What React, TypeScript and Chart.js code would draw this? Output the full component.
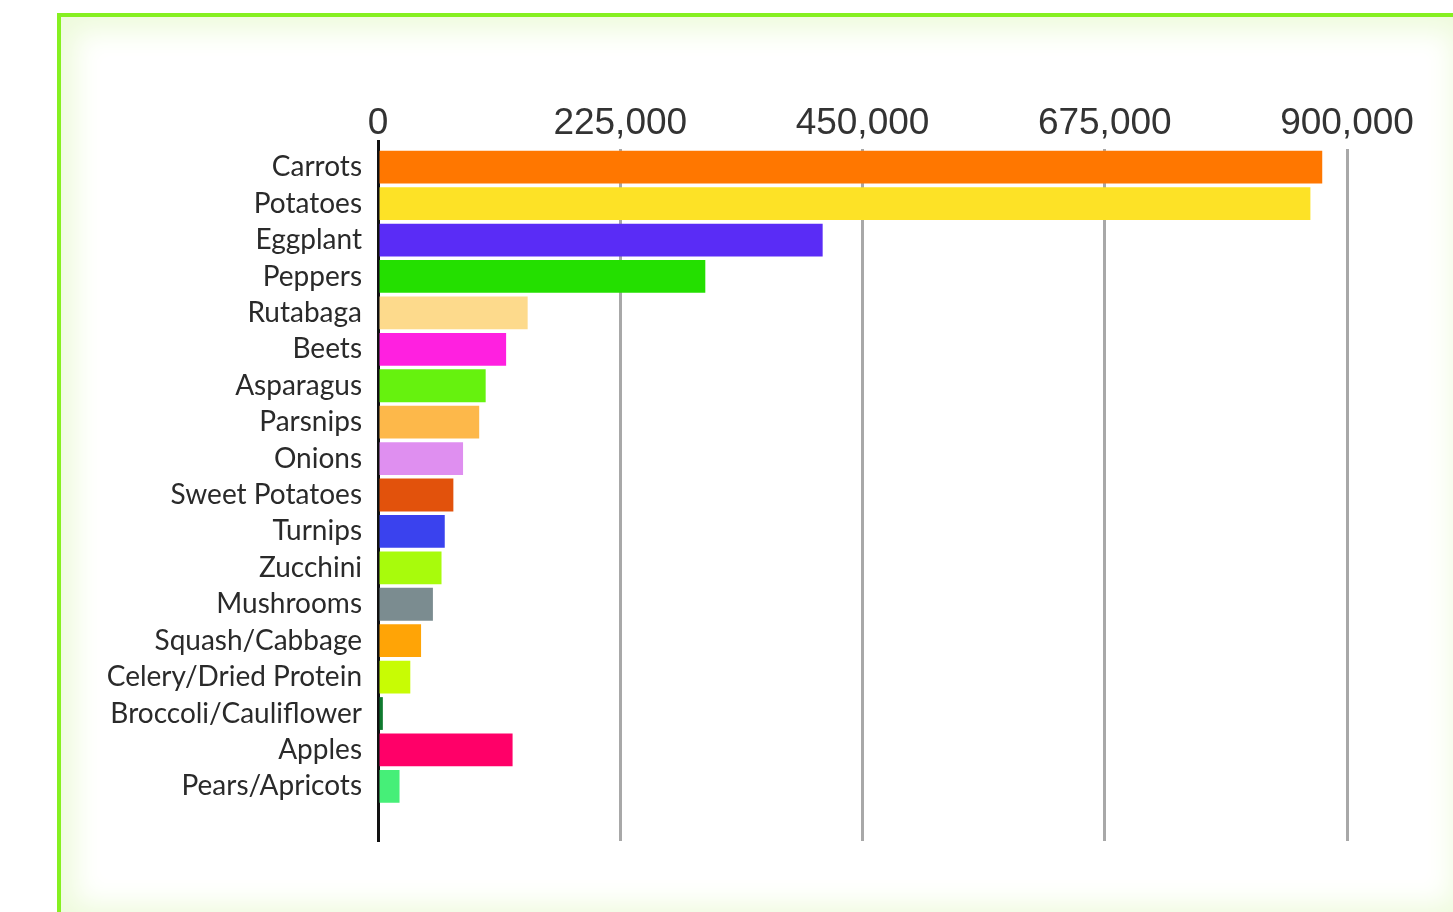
import React, { useEffect, useRef } from "react";
import { Chart, registerables } from "chart.js";

Chart.register(...registerables);

const categories = [
  "Carrots",
  "Potatoes",
  "Eggplant",
  "Peppers",
  "Rutabaga",
  "Beets",
  "Asparagus",
  "Parsnips",
  "Onions",
  "Sweet Potatoes",
  "Turnips",
  "Zucchini",
  "Mushrooms",
  "Squash/Cabbage",
  "Celery/Dried Protein",
  "Broccoli/Cauliflower",
  "Apples",
  "Pears/Apricots",
  "",
];

const values: (number | null)[] = [
  877000, 866000, 413000, 304000, 139000, 119000, 100000, 94000, 79000,
  70000, 62000, 59000, 51000, 40000, 30000, 4500, 125000, 20000, null,
];

const barColors = [
  "#ff7700",
  "#fde226",
  "#5a2cf6",
  "#24df00",
  "#fdda8c",
  "#ff20e0",
  "#66f20e",
  "#fdb84a",
  "#df8ff0",
  "#e2520c",
  "#3a42ee",
  "#a8fb0c",
  "#7b8c90",
  "#ffa406",
  "#c8fc04",
  "#0f7a2e",
  "#ff0068",
  "#46ef78",
  "#ffffff",
];

const xTicks = [0, 225000, 450000, 675000, 900000];

export default function App() {
  const ref = useRef<HTMLCanvasElement>(null);

  useEffect(() => {
    if (!ref.current) return;
    const chart = new Chart(ref.current, {
      type: "bar",
      data: {
        labels: categories,
        datasets: [
          {
            data: values,
            backgroundColor: barColors,
            borderWidth: 0,
            categoryPercentage: 0.9,
            barPercentage: 1,
          },
        ],
      },
      options: {
        indexAxis: "y",
        animation: false,
        responsive: false,
        maintainAspectRatio: false,
        layout: { padding: { left: 0, right: 106, top: 0, bottom: 71 } },
        plugins: { legend: { display: false }, tooltip: { enabled: false } },
        scales: {
          x: {
            position: "top",
            min: 0,
            max: 900000,
            afterBuildTicks: (scale: any) => {
              scale.ticks = xTicks.map((v) => ({ value: v }));
            },
            afterFit: (scale: any) => {
              scale.height = 149;
            },
            ticks: {
              color: "#333",
              padding: -6,
              font: { family: "Liberation Sans", size: 37 },
              callback: (v: any) => Number(v).toLocaleString("en-US"),
            },
            grid: {
              color: (c: any) => (c.tick && c.tick.value === 0 ? "rgba(0,0,0,0)" : "#a8a8a8"),
              lineWidth: 3,
              tickLength: 9,
              tickColor: (c: any) => (c.tick && c.tick.value === 0 ? "#111" : "rgba(0,0,0,0)"),
              tickWidth: 3,
            },
            border: { display: false },
          },
          y: {
            afterFit: (scale: any) => {
              scale.width = 378;
            },
            ticks: {
              color: "#2a2a2a",
              padding: 8,
              autoSkip: false,
              font: { family: "Lato", size: 28 },
            },
            grid: { display: false },
            border: { display: true, color: "#111", width: 3 },
          },
        },
      },
    });
    return () => chart.destroy();
  }, []);

  return (
    <div
      style={{
        position: "absolute",
        left: 0,
        top: 0,
        width: 1453,
        height: 912,
        background: "#ffffff",
        overflow: "hidden",
      }}
    >
      <div
        style={{
          position: "absolute",
          left: 57,
          top: 13,
          width: 1410,
          height: 906,
          border: "4px solid #86f020",
          borderRight: "none",
          borderBottom: "none",
          boxSizing: "border-box",
          boxShadow: "inset 0 0 28px 14px #eefbdc",
        }}
      />
      <canvas
        ref={ref}
        width={1453}
        height={912}
        style={{ position: "absolute", left: 0, top: 0, width: 1453, height: 912 }}
      />
    </div>
  );
}
